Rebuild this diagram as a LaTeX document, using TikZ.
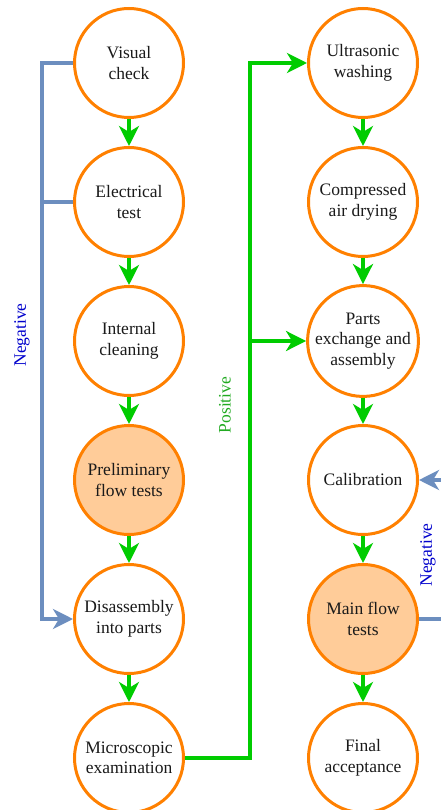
\documentclass[tikz,border=0pt]{standalone}
\usepackage{fontspec}
\setmainfont{Liberation Serif}
\usetikzlibrary{arrows.meta}
\definecolor{orng}{HTML}{FF8000}
\definecolor{peach}{HTML}{FFCC99}
\definecolor{grn}{HTML}{00CC00}
\definecolor{bluel}{HTML}{6C8EBF}
\definecolor{negtxt}{HTML}{0000CC}
\definecolor{postxt}{HTML}{22AA22}
\definecolor{txt}{HTML}{1A1A1A}
\tikzset{
  stage/.style={circle, draw=orng, line width=3pt, fill=white, minimum size=109pt, inner sep=0pt, align=center, text=txt, font=\fontsize{17.5}{20.5}\selectfont},
  hot/.style={stage, fill=peach},
  flow/.style={draw=grn, line width=4pt, -{Stealth[length=20pt,width=20pt,inset=6pt]}},
  posline/.style={draw=grn, line width=4pt},
  negline/.style={draw=bluel, line width=4pt},
  negarrow/.style={negline, -{Stealth[length=20pt,width=20pt,inset=6pt]}},
  lbl/.style={rotate=90, font=\fontsize{17.5}{20}\selectfont}
}
\begin{document}
\begin{tikzpicture}[x=1pt,y=-1pt]
\useasboundingbox (0,0) rectangle (441,810);
\clip (0,0) rectangle (441,810);
% left column
\node[stage] (v)  at (129,63)  {Visual\\check};
\node[stage] (e)  at (129,202) {Electrical\\test};
\node[stage] (ic) at (129,341) {Internal\\cleaning};
\node[hot]   (pf) at (129,480) {Preliminary\\flow tests};
\node[stage] (d)  at (129,619) {Disassembly\\into parts};
\node[stage] (m)  at (129,758) {Microscopic\\examination};
% right column
\node[stage] (u)   at (363,63)  {Ultrasonic\\washing};
\node[stage] (c)   at (363,202) {Compressed\\air drying};
\node[stage] (p)   at (363,341) {Parts\\exchange and\\assembly};
\node[stage] (cal) at (363,480) {Calibration};
\node[hot]   (mf)  at (363,619) {Main flow\\tests};
\node[stage] (fa)  at (363,758) {Final\\acceptance};
% vertical flow
\draw[flow] (v) -- (e);
\draw[flow] (e) -- (ic);
\draw[flow] (ic) -- (pf);
\draw[flow] (pf) -- (d);
\draw[flow] (d) -- (m);
\draw[flow] (u) -- (c);
\draw[flow] (c) -- (p);
\draw[flow] (p) -- (cal);
\draw[flow] (cal) -- (mf);
\draw[flow] (mf) -- (fa);
% negative loop left
\coordinate (bx) at (42,0);
\draw[negarrow] (v.west) -- (v.west -| bx) -- (bx |- d.west) -- (d.west);
\draw[negline] (e.west) -- (e.west -| bx);
\node[lbl, text=negtxt] (nl) at (22,335) {Negative};
% positive path
\coordinate (gx) at (250,0);
\draw[flow] (m.east) -- (m.east -| gx) -- (gx |- u.west) -- (u.west);
\draw[flow] (gx |- p.west) -- (p.west);
\node[lbl, text=postxt] (pl) at (225,405) {Positive};
% negative loop right
\coordinate (rx) at (448,0);
\draw[negarrow] (mf.east) -- (mf.east -| rx) -- (rx |- cal.east) -- (cal.east);
\node[lbl, text=negtxt] (nr) at (428,555) {Negative};
\end{tikzpicture}
\end{document}
